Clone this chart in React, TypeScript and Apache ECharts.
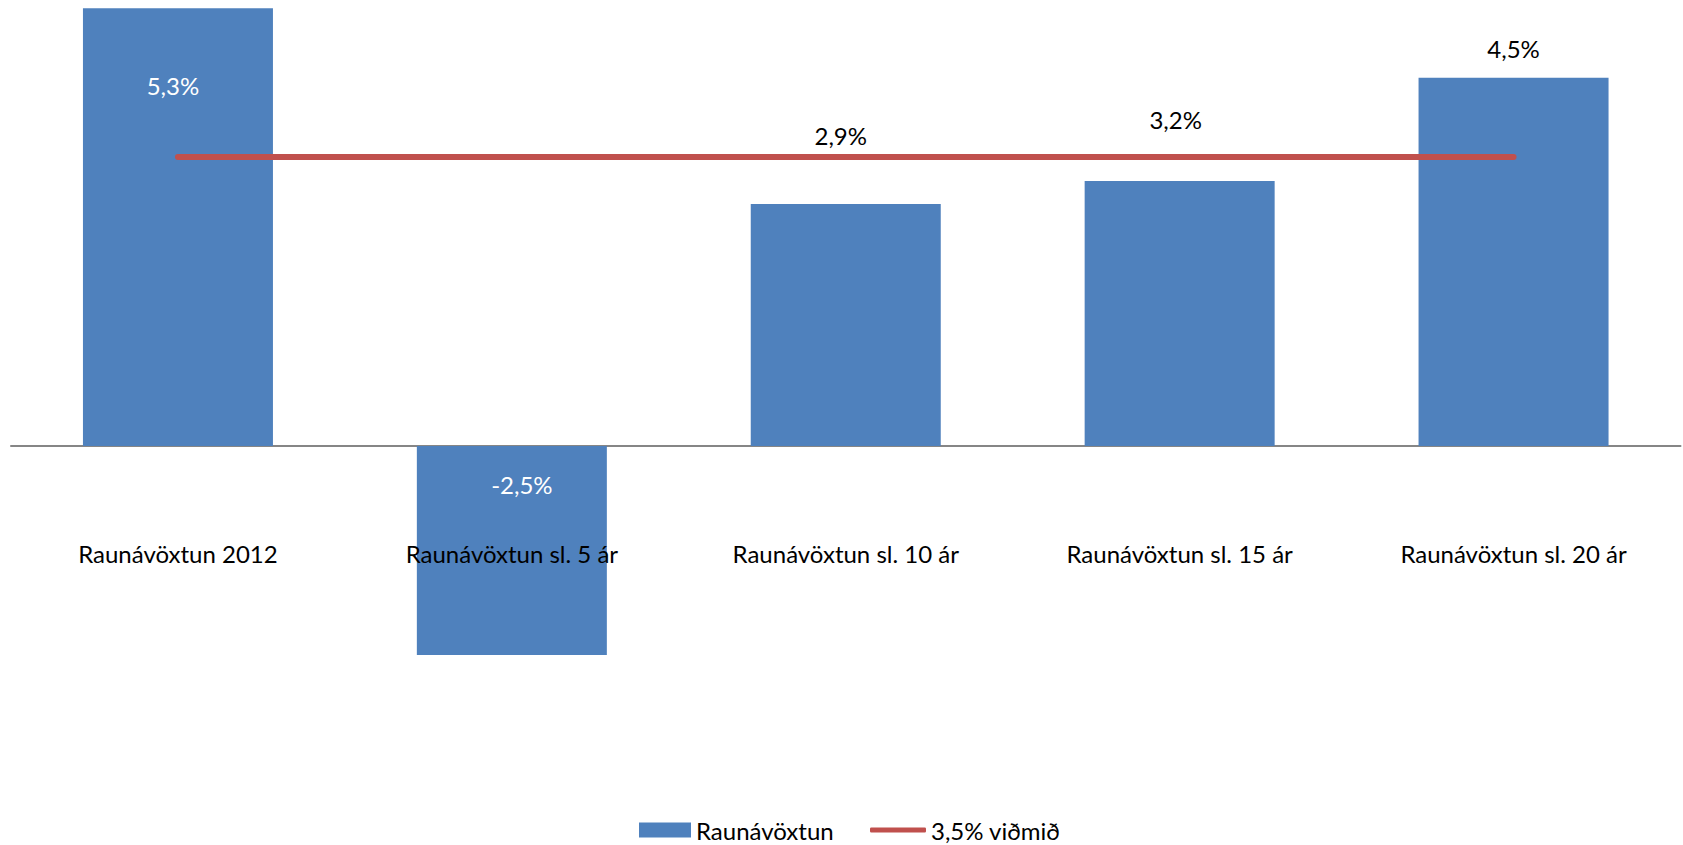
import React, { useEffect, useRef } from "react";
import * as echarts from "echarts";

const categories = [
  "Raunávöxtun 2012",
  "Raunávöxtun sl. 5 ár",
  "Raunávöxtun sl. 10 ár",
  "Raunávöxtun sl. 15 ár",
  "Raunávöxtun sl. 20 ár",
];
const realReturn = [5.3, -2.53, 2.93, 3.21, 4.46];
const benchmark = [3.5, 3.5, 3.5, 3.5, 3.5];
const seriesNames = ["Raunávöxtun", "3,5% viðmið"];

const FONT = "Lato";

// label placement per bar (style only)
const labelLayout = [
  { position: "insideTop", distance: 65, offset: [-5, 0], color: "#ffffff" },
  { position: "insideTop", distance: 26, offset: [10, 0], color: "#ffffff" },
  { position: "top", distance: 57, offset: [-5, 0], color: "#000000" },
  { position: "top", distance: 49, offset: [-4, 0], color: "#000000" },
  { position: "top", distance: 17, offset: [0, 0], color: "#000000" },
];

const fmt = (v: number) => v.toFixed(1).replace(".", ",") + "%";

export default function App() {
  const ref = useRef<HTMLDivElement>(null);
  useEffect(() => {
    if (!ref.current) return;
    const chart = echarts.init(ref.current, null, { renderer: "svg" });
    const barData = realReturn.map((v, i) => ({
      value: v,
      label: {
        show: true,
        position: labelLayout[i].position,
        distance: labelLayout[i].distance,
        offset: labelLayout[i].offset,
        color: labelLayout[i].color,
        fontFamily: FONT,
        fontSize: 24,
        formatter: () => fmt(v),
      },
    }));
    chart.setOption({
      animation: false,
      backgroundColor: "#ffffff",
      textStyle: { fontFamily: FONT },
      grid: {
        left: 11,
        right: 2.5,
        top: 0,
        bottom: 19,
        containLabel: false,
        outerBoundsMode: "none",
      },
      legend: [
        {
          data: [seriesNames[0]],
          left: 639,
          top: 818,
          padding: 0,
          icon: "rect",
          itemWidth: 52,
          itemHeight: 15,
          textStyle: { fontFamily: FONT, fontSize: 24, color: "#000" },
        },
        {
          data: [seriesNames[1]],
          left: 870,
          top: 818,
          padding: 0,
          icon: "roundRect",
          itemWidth: 56,
          itemHeight: 5,
          itemStyle: { color: "#C0504D" },
          lineStyle: { width: 0 },
          textStyle: { fontFamily: FONT, fontSize: 24, color: "#000" },
        },
      ],
      xAxis: [
        {
          type: "category",
          data: categories,
          boundaryGap: true,
          axisLine: { show: true, onZero: true, lineStyle: { color: "#868686", width: 2 } },
          axisTick: { show: false },
          axisLabel: { show: false },
          splitLine: { show: false },
        },
        {
          type: "category",
          data: categories,
          boundaryGap: true,
          position: "bottom",
          offset: -285,
          z: 10,
          axisLine: { show: false, onZero: false },
          axisTick: { show: false },
          axisLabel: {
            margin: 0,
            fontFamily: FONT,
            fontSize: 24,
            color: "#000",
            interval: 0,
          },
          splitLine: { show: false },
        },
      ],
      yAxis: {
        type: "value",
        min: -4.6,
        max: 5.4,
        show: false,
        splitLine: { show: false },
      },
      series: [
        {
          name: seriesNames[0],
          type: "bar",
          xAxisIndex: 0,
          data: barData,
          barWidth: 190,
          itemStyle: { color: "#4F81BD" },
          z: 2,
        },
        {
          name: seriesNames[1],
          type: "line",
          xAxisIndex: 0,
          data: benchmark,
          showSymbol: false,
          symbol: "none",
          lineStyle: { color: "#C0504D", width: 6, cap: "round" },
          itemStyle: { color: "#C0504D" },
          z: 3,
        },
      ],
    });
    return () => chart.dispose();
  }, []);
  return (
    <div
      ref={ref}
      style={{ position: "fixed", left: 0, top: 0, width: 1683, height: 845 }}
    />
  );
}
